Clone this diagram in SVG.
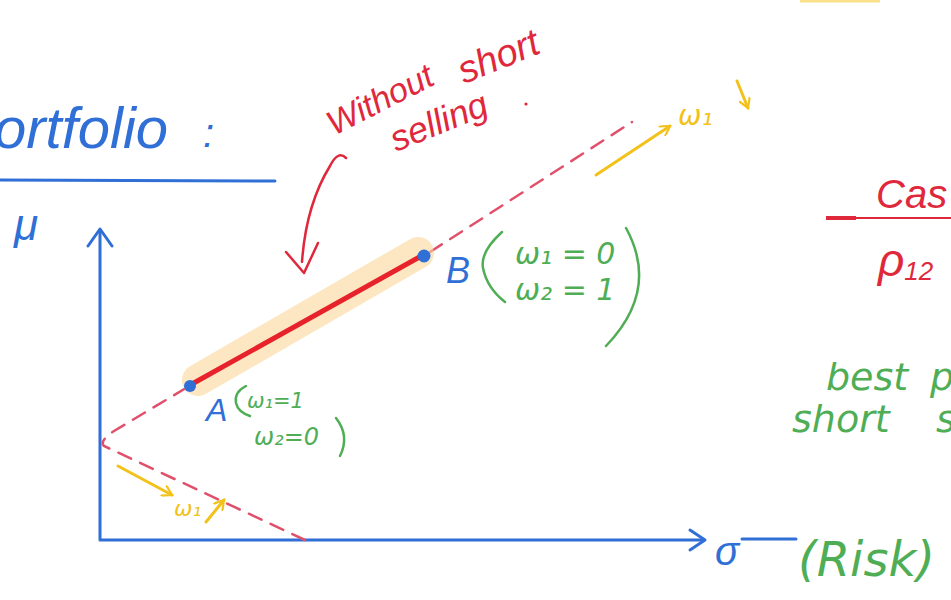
<svg xmlns="http://www.w3.org/2000/svg" width="951" height="600" viewBox="0 0 951 600">
<defs>
<style>
.blue{fill:#2f6fd6;font-family:"Liberation Sans",sans-serif;font-style:italic}
.green{fill:#4fae55;font-family:"DejaVu Sans",sans-serif;font-style:italic}
.red{fill:#e0283c;font-family:"Liberation Sans",sans-serif;font-style:italic}
.yellow{fill:#f2c21a;font-family:"DejaVu Sans",sans-serif;font-style:italic}
.bl{stroke:#2f6fd6;stroke-width:3;fill:none;stroke-linecap:round;stroke-linejoin:round}
.gl{stroke:#4fae55;stroke-width:2.5;fill:none;stroke-linecap:round}
.rl{stroke:#e0283c;stroke-width:2.5;fill:none;stroke-linecap:round;stroke-linejoin:round}
.yl{stroke:#f2c21a;stroke-width:3;fill:none;stroke-linecap:round;stroke-linejoin:round}
.dash{stroke:#e0506a;stroke-width:2.5;fill:none;stroke-dasharray:14 10;stroke-linecap:round}
</style>
<marker id="yh" viewBox="0 0 12 12" refX="10" refY="6" markerWidth="12" markerHeight="12" markerUnits="userSpaceOnUse" orient="auto">
<path d="M0,0 L10,6 L0,12" fill="none" stroke="#f2c21a" stroke-width="2.2"/>
</marker>
</defs>
<rect width="951" height="600" fill="#ffffff"/>
<line x1="800" y1="1" x2="880" y2="1" stroke="#fbe08a" stroke-width="3"/>

<!-- title -->
<g id="title">
<text class="blue" x="-6" y="148" font-size="58">ortfolio</text>
<text class="blue" x="203" y="147" font-size="40">:</text>
<line class="bl" x1="0" y1="180" x2="275" y2="181" stroke-width="2.5"/>
</g>

<!-- axes -->
<g id="axes">
<text class="blue" x="14" y="240" font-size="44">μ</text>
<path class="bl" d="M100 232 L100 540 L703 540"/>
<path class="bl" d="M88 246 L100 229 L112 246"/>
<path class="bl" d="M690 530 L705 540 L690 550"/>
<text class="blue" x="715" y="565" font-size="40" font-style="normal">σ</text>
<line class="bl" x1="742" y1="539" x2="796" y2="539" stroke-width="2"/>
<text class="green" x="798" y="576" font-size="48" font-family="Liberation Sans, sans-serif">(Risk)</text>
</g>

<!-- connectors / curve -->
<g id="connectors">
<path class="dash" d="M305 540 L104 446 Q99 441 114 431 L186 388"/>
<path class="dash" d="M430 252 L632 122"/>
<line x1="198" y1="380" x2="418" y2="253" stroke="#fbd89a" stroke-width="32" stroke-linecap="round" opacity="0.6"/>
<line x1="192" y1="384" x2="423" y2="255" stroke="#e8222a" stroke-width="5" stroke-linecap="round"/>
<path class="rl" d="M346 158 Q338 150 330 166 Q306 205 302 262"/>
<path class="rl" d="M286 252 L304 273 L318 243"/>
<line class="yl" x1="596" y1="175" x2="670" y2="126" marker-end="url(#yh)"/>
<line class="yl" x1="737" y1="81" x2="748" y2="108" marker-end="url(#yh)"/>
<line class="yl" x1="118" y1="466" x2="172" y2="495" marker-end="url(#yh)"/>
<line class="yl" x1="206" y1="522" x2="224" y2="500" marker-end="url(#yh)"/>
</g>

<g id="nodeA">
<circle cx="190" cy="386" r="6" fill="#2f6fd6"/>
<text class="blue" x="206" y="421" font-size="32" font-style="normal">A</text>
<path class="gl" d="M246 386 Q234 392 236 403 Q238 412 250 416"/>
<text class="green" x="247" y="408" font-size="21">ω₁=1</text>
<text class="green" x="254" y="445" font-size="24">ω₂=0</text>
<path class="gl" d="M336 418 Q350 436 340 456"/>
</g>

<g id="nodeB">
<circle cx="424" cy="256" r="6.5" fill="#2f6fd6"/>
<text class="blue" x="446" y="283" font-size="36" font-style="normal">B</text>
<path class="gl" d="M502 232 Q480 252 483 268 Q487 288 505 302"/>
<text class="green" x="515" y="264" font-size="30">ω₁ = 0</text>
<text class="green" x="515" y="300" font-size="30">ω₂ = 1</text>
<path class="gl" d="M626 228 Q660 290 606 346"/>
</g>

<g id="label-noshort">
<text class="red" font-size="34" transform="translate(334 136) rotate(-27)">Without</text>
<text class="red" font-size="38" transform="translate(464 84) rotate(-22)">short</text>
<text class="red" font-size="36" transform="translate(396 152) rotate(-22)">selling</text>
<circle cx="526" cy="104" r="1.6" fill="#e0283c"/>
</g>

<g id="label-w1">
<text class="yellow" x="678" y="125" font-size="28">ω₁</text>
<text class="yellow" x="174" y="516" font-size="22">ω₁</text>
</g>

<g id="right">
<text class="red" x="876" y="208" font-size="40">Cas</text>
<line x1="826" y1="218" x2="951" y2="218" stroke="#e0283c" stroke-width="2"/>
<line x1="826" y1="218" x2="856" y2="218" stroke="#e0283c" stroke-width="4"/>
<text class="red" x="878" y="276" font-size="46">ρ<tspan font-size="26" dy="4">12</tspan></text>
<text class="green" font-family="Liberation Sans, sans-serif" font-size="38" y="390"><tspan x="826">best</tspan><tspan x="930">p</tspan></text>
<text class="green" font-family="Liberation Sans, sans-serif" font-size="38" y="432"><tspan x="792">short</tspan><tspan x="936">s</tspan></text>
</g>
</svg>
